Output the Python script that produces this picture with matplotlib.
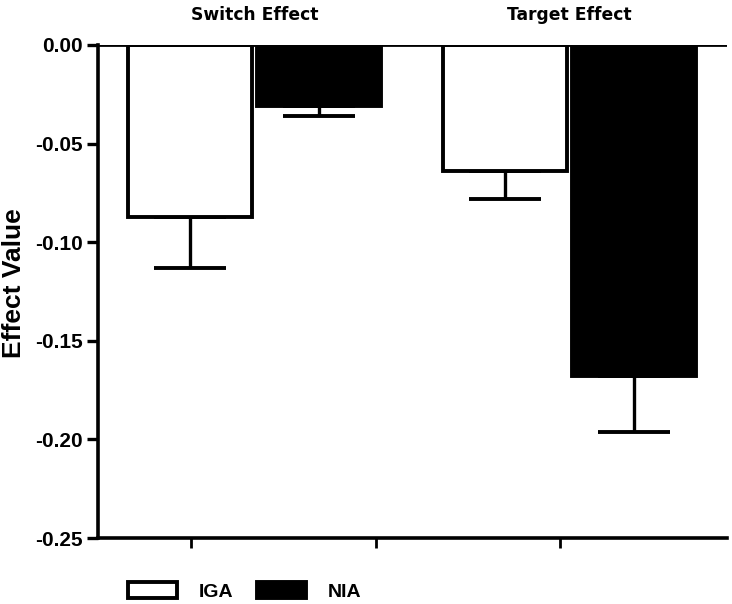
import numpy as np
import matplotlib
matplotlib.use('Agg')
import matplotlib.pyplot as plt

# Data
groups = ['Switch Effect', 'Target Effect']
series = ['IGA', 'NIA']
iga_vals = [-0.087, -0.064]
iga_err = [0.026, 0.014]
nia_vals = [-0.031, -0.168]
nia_err = [0.005, 0.028]
yticks = [0.00, -0.05, -0.10, -0.15, -0.20, -0.25]

plt.rcParams['font.family'] = ['Liberation Sans', 'DejaVu Sans']

fig = plt.figure(figsize=(7.32, 6.04), dpi=100)
ax = fig.add_axes([98 / 732, 1 - 538 / 604, (727 - 98) / 732, (538 - 45) / 604])

group_x = np.array([1.26, 3.80])
offset = 0.52
width = 1.0
lw = 2.8

ax.bar(group_x - offset, iga_vals, width=width, color='white', edgecolor='black',
       linewidth=lw, label=series[0], zorder=3)
ax.bar(group_x + offset, nia_vals, width=width, color='black', edgecolor='black',
       linewidth=lw, label=series[1], zorder=3)

# one-sided (downward) error bars
ax.errorbar(group_x - offset, iga_vals, yerr=[iga_err, np.zeros(2)], fmt='none',
            ecolor='black', elinewidth=2.4, capsize=26, capthick=2.8, zorder=2)
ax.errorbar(group_x + offset, nia_vals, yerr=[nia_err, np.zeros(2)], fmt='none',
            ecolor='black', elinewidth=2.4, capsize=26, capthick=2.8, zorder=2)

ax.axhline(0, color='black', linewidth=2.0, zorder=4)

ax.set_xlim(0, 5.07)
ax.set_ylim(-0.25, 0.0)
ax.set_yticks(yticks)
ax.set_yticklabels([f'{v:.2f}' for v in yticks], fontsize=15, fontweight='bold')
ax.set_xticks([0.75, 2.24, 3.72])
ax.set_xticklabels([])

for s in ['top', 'right']:
    ax.spines[s].set_visible(False)
ax.spines['left'].set_linewidth(2.6)
ax.spines['bottom'].set_linewidth(2.6)
ax.tick_params(axis='y', direction='out', length=8, width=2.4, pad=3)
ax.tick_params(axis='x', direction='out', length=7, width=2.0)

ax.set_ylabel('Effect Value', fontsize=19, fontweight='bold')
ax.yaxis.set_label_coords(-0.115, 0.517)

for gx, g in zip(group_x, groups):
    ax.text(gx, 1.042, g, transform=ax.get_xaxis_transform(), ha='center', va='bottom',
            fontsize=12.3, fontweight='bold', family=['DejaVu Sans'])

ax.legend(loc='upper left', bbox_to_anchor=(0.02, -0.054), ncol=2, frameon=False,
          handlelength=2.5, handleheight=0.9, handletextpad=1.15, columnspacing=1.2,
          prop={'weight': 'bold', 'size': 14})

fig.savefig('out.png', dpi=100, facecolor='white')
